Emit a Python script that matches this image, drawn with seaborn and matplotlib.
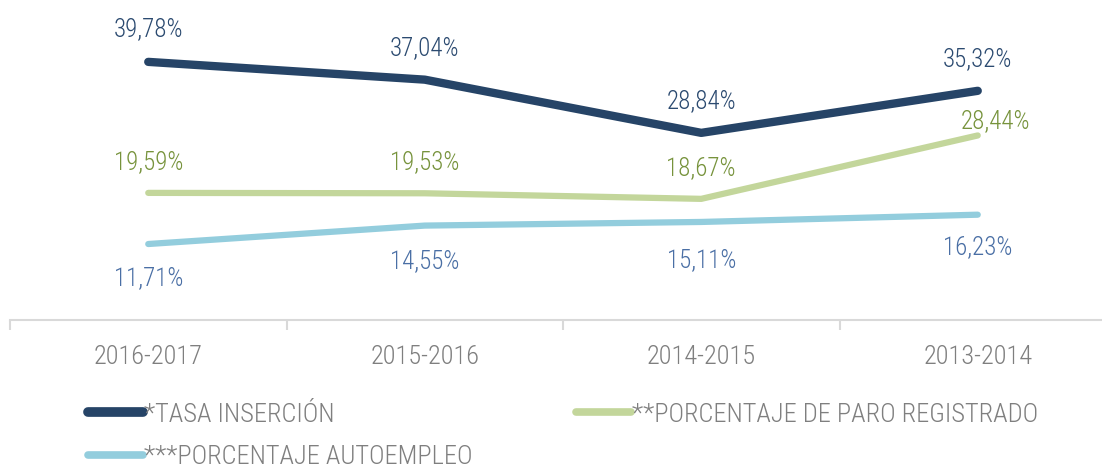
import pandas as pd
import seaborn as sns
import matplotlib.pyplot as plt
from matplotlib import font_manager

periodos = ['2016-2017', '2015-2016', '2014-2015', '2013-2014']
tasa_insercion = [39.78, 37.04, 28.84, 35.32]
paro_registrado = [19.59, 19.53, 18.67, 28.44]
autoempleo = [11.71, 14.55, 15.11, 16.23]

series = ['*TASA INSERCIÓN', '**PORCENTAJE DE PARO REGISTRADO', '***PORCENTAJE AUTOEMPLEO']
line_colors = ['#264467', '#C3D69B', '#93CDDD']
label_colors = ['#2B4A70', '#77933C', '#4A6FA5']

df = pd.DataFrame({
    'periodo': periodos * 3,
    'valor': tasa_insercion + paro_registrado + autoempleo,
    'serie': [s for s in series for _ in periodos],
})

sns.set_style('white')
names = {f.name for f in font_manager.fontManager.ttflist}
font = next((f for f in ['Roboto Condensed', 'Archivo Narrow', 'Liberation Sans Narrow', 'Liberation Sans']
             if f in names), 'DejaVu Sans')
plt.rcParams['font.family'] = [font, 'DejaVu Sans']
plt.rcParams['font.weight'] = 'light'

fig = plt.figure(figsize=(11.02, 4.68), dpi=100)
ax = fig.add_axes([10 / 1102, 148 / 468, 1106 / 1102, 292 / 468])

sns.lineplot(data=df, x='periodo', y='valor', hue='serie', palette=dict(zip(series, line_colors)),
             sort=False, ax=ax, legend=False, solid_capstyle='round')
widths = [6.0, 4.5, 4.5]
for line, w in zip(ax.lines, widths):
    line.set_linewidth(w)

ax.set_xlim(-0.5, 3.5)
ax.set_ylim(0, 45)

# data labels
offsets = {
    0: [(0, 33), (0, 32), (0, 32), (0, 32)],
    1: [(0, 31), (0, 31), (0, 31), (18, 14)],
    2: [(0, -34), (0, -36), (0, -38), (0, -32)],
}
for i, vals in enumerate([tasa_insercion, paro_registrado, autoempleo]):
    for j, v in enumerate(vals):
        dx, dy = offsets[i][j]
        ax.annotate(f'{v:.2f}'.replace('.', ',') + '%', (j, v), xytext=(dx * 0.72, dy * 0.72),
                    textcoords='offset points', ha='center', va='center',
                    fontsize=18, color=label_colors[i])

for s in ['top', 'right', 'left']:
    ax.spines[s].set_visible(False)
ax.spines['bottom'].set_color('#D9D9D9')
ax.spines['bottom'].set_linewidth(1.5)
ax.set_yticks([])
ax.set_xticks(range(len(periodos)))
ax.set_xticklabels(periodos, fontsize=19, color='#7F7F7F')
ax.set_xticks([-0.5, 0.5, 1.5, 2.5, 3.5], minor=True)
ax.tick_params(axis='x', which='major', length=0, pad=18)
ax.tick_params(axis='x', which='minor', length=7, width=1.5, color='#D9D9D9', bottom=True)
ax.set_xlabel('')
ax.set_ylabel('')

handles = [plt.Line2D([], [], color=c, lw=w + 1, solid_capstyle='round') for c, w in zip(line_colors, widths)]
order = [0, 2, 1]
leg = fig.legend([handles[k] for k in order], [series[k] for k in order], ncol=2,
                 loc='upper left', bbox_to_anchor=(77 / 1102, 1 - 392 / 468), frameon=False,
                 fontsize=19, handlelength=2.1, handletextpad=0.05, columnspacing=3.9,
                 labelspacing=0.7, borderaxespad=0)
for t in leg.get_texts():
    t.set_color('#7F7F7F')

fig.savefig('out.png', dpi=100)
